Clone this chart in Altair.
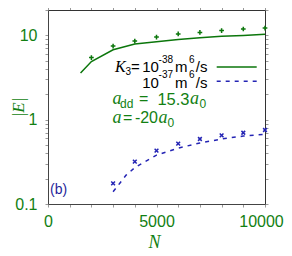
import altair as alt
import pandas as pd

# ---- data ----
n_pts_green = [2000, 3000, 4000, 5000, 6000, 7000, 8000, 9000, 10000]
e_pts_green = [5.45, 7.47, 8.57, 9.55, 10.4, 10.85, 11.4, 11.9, 12.2]

n_pts_blue = [3000, 4000, 5000, 6000, 7000, 8000, 9000, 10000]
e_pts_blue = [0.176, 0.318, 0.43, 0.52, 0.59, 0.65, 0.70, 0.755]

n_line_green = [1500, 2000, 3000, 4000, 5000, 6000, 7000, 8000, 9000, 10000]
e_line_green = [3.58, 4.9, 6.75, 7.9, 8.4, 8.95, 9.4, 9.75, 10.0, 10.3]

n_line_blue = [3000, 3300, 3600, 4000, 4400, 5000, 6000, 7000, 8000, 9000, 10000]
e_line_blue = [0.14, 0.175, 0.22, 0.27, 0.31, 0.38, 0.46, 0.53, 0.59, 0.64, 0.67]

x_ticks = list(range(0, 10001, 1000))
y_ticks = [0.1, 0.2, 0.3, 0.4, 0.5, 0.6, 0.7, 0.8, 0.9,
           1, 2, 3, 4, 5, 6, 7, 8, 9, 10, 20]

GREEN = "#128012"
GREEN_LINE = "#0b760b"
BLUE = "#2424b4"
BLUE_TXT = "#1f1f9a"

W, H = 217, 194
X_DOM = [0, 10000]
Y_DOM = [0.1, 20]


def at(px, py):
    """annotation placement: page pixel -> data coordinates"""
    n = (px - 48) / W * 10000
    e = 10 ** (1 - (py - 35) / 84.5)
    return n, e


xs = alt.Scale(domain=X_DOM, nice=False, zero=False)
ys = alt.Scale(type="log", domain=Y_DOM, nice=False)

common_axis = dict(domainColor="#444", tickColor="#999", tickSize=3, grid=False,
                   labelColor=GREEN, labelFont="Liberation Sans", labelFontSize=16,
                   labelFlush=False, labelOverlap=False, labelBound=False)

x_axis = alt.Axis(values=x_ticks, format="d",
                  labelExpr="datum.value % 5000 == 0 ? datum.label : ''",
                  labelOffset={"condition": {"test": "datum.value == 10000", "value": -4}, "value": 0},
                  labelPadding=6, title="N", titleFont="Liberation Serif",
                  titleFontStyle="italic", titleFontWeight="normal", titleFontSize=18,
                  titleColor=GREEN, titleX=106, titleY=43, titleBaseline="alphabetic",
                  **common_axis)
y_axis = alt.Axis(values=y_ticks,
                  labelExpr="datum.value == 0.1 ? '0.1' : datum.value == 1 ? '1' : datum.value == 10 ? '10' : ''",
                  labelPadding=8, title="|E|", titleFont="Liberation Serif",
                  titleFontStyle="italic", titleFontWeight="normal", titleFontSize=17,
                  titleColor=GREEN, titleAngle=-90, titleX=-30, titleY=97,
                  titleBaseline="middle", titleAlign="center", **common_axis)

x_top = alt.Axis(orient="top", values=x_ticks, labels=False, title=None,
                 domainColor="#333", tickColor="#999", tickSize=3, grid=False)
y_right = alt.Axis(orient="right", values=y_ticks, labels=False, title=None,
                   domainColor="#333", tickColor="#999", tickSize=3, grid=False)


def X():
    return alt.X("N:Q", scale=xs, axis=x_axis)


def Y():
    return alt.Y("E:Q", scale=ys, axis=y_axis)


df_gl = pd.DataFrame({"N": n_line_green, "E": e_line_green})
df_bl = pd.DataFrame({"N": n_line_blue, "E": e_line_blue})
df_gp = pd.DataFrame({"N": n_pts_green, "E": e_pts_green})
df_bp = pd.DataFrame({"N": n_pts_blue, "E": e_pts_blue})

green_line = alt.Chart(df_gl).mark_line(color=GREEN_LINE, strokeWidth=1.5).encode(x=X(), y=Y())
blue_line = alt.Chart(df_bl).mark_line(color=BLUE, strokeWidth=1.5, strokeDash=[4, 5]).encode(x=X(), y=Y())
green_pts = alt.Chart(df_gp).mark_point(shape="M-1,0L1,0M0,-1L0,1", size=22, filled=False,
                                        color=GREEN_LINE, strokeWidth=1.5, opacity=1).encode(x=X(), y=Y())
blue_pts = alt.Chart(df_bp).mark_point(shape="M-1,-1L1,1M-1,1L1,-1", size=14, filled=False,
                                       color=BLUE, strokeWidth=1.5, opacity=1).encode(x=X(), y=Y())

# legend samples
g0, ge = at(216.7, 66.7)
g1, _ = at(256.7, 66.7)
b0, be = at(216.7, 81)
leg_g = alt.Chart(pd.DataFrame({"N": [g0, g1], "E": [ge, ge]})).mark_line(
    color=GREEN_LINE, strokeWidth=1.5).encode(x=X(), y=Y())
leg_b = alt.Chart(pd.DataFrame({"N": [b0, g1], "E": [be, be]})).mark_line(
    color=BLUE, strokeWidth=1.5, strokeDash=[4, 5]).encode(x=X(), y=Y())


def texts(pieces, font, style, color, align="left"):
    rows = []
    for t, px, py, s in pieces:
        n, e = at(px, py)
        rows.append({"N": n, "E": e, "t": t, "s": s})
    return alt.Chart(pd.DataFrame(rows)).mark_text(
        align=align, baseline="alphabetic", font=font, fontStyle=style, color=color
    ).encode(
        x=X(), y=Y(),
        text="t:N",
        size=alt.Size("s:Q", scale=None, legend=None),
    )


black_serif = texts([("K", 115, 71.7, 16)], "Liberation Serif", "italic", "black")
black_sans = texts([
    ("3", 125.5, 75, 10), ("=", 131, 71.7, 15), ("10", 142.2, 71.7, 15),
    ("-38", 158.6, 62.5, 10), ("m", 175, 71.7, 15), ("6", 189, 62.5, 10),
    ("10", 142.2, 87.3, 15), ("-37", 158.6, 78, 10), ("m", 175, 87.3, 15),
    ("6", 189, 78, 10),
], "Liberation Sans", "normal", "black")
black_sans_r = texts([("/s", 207.5, 71.7, 15), ("/s", 207.5, 87.3, 15)],
                     "Liberation Sans", "normal", "black", align="right")
green_serif = texts([
    ("a", 112.5, 104, 18), ("a", 190, 104, 18),
    ("a", 112.5, 123, 18), ("a", 158.5, 123, 18),
], "Liberation Serif", "italic", GREEN)
green_sans = texts([
    ("dd", 120, 107.5, 12), ("=", 139, 104, 16), ("0", 199.5, 107.5, 12),
    ("=", 123, 123, 16), ("0", 167.5, 127, 12),
], "Liberation Sans", "normal", GREEN)
green_sans_r = texts([("15.3", 189.5, 104.5, 16.5), ("-20", 158, 123, 16)],
                     "Liberation Sans", "normal", GREEN, align="right")
blue_sans = texts([("(b)", 50, 194, 14)], "Liberation Sans", "normal", BLUE_TXT)

frame = alt.Chart(df_gp).mark_point(opacity=0).encode(
    x=alt.X("N:Q", scale=xs, axis=x_top),
    y=alt.Y("E:Q", scale=ys, axis=y_right),
)

main = alt.layer(green_line, blue_line, green_pts, blue_pts, leg_g, leg_b,
                 black_serif, black_sans, black_sans_r, green_serif, green_sans,
                 green_sans_r, blue_sans)

chart = alt.layer(main, frame).resolve_axis(x="independent", y="independent").properties(
    width=W, height=H,
    autosize=alt.AutoSizeParams(type="none"),
    padding={"left": 40, "top": 2, "right": 19, "bottom": 48},
).configure_view(stroke=None)

chart.save("out.html", embed_options={"renderer": "svg", "actions": False})
